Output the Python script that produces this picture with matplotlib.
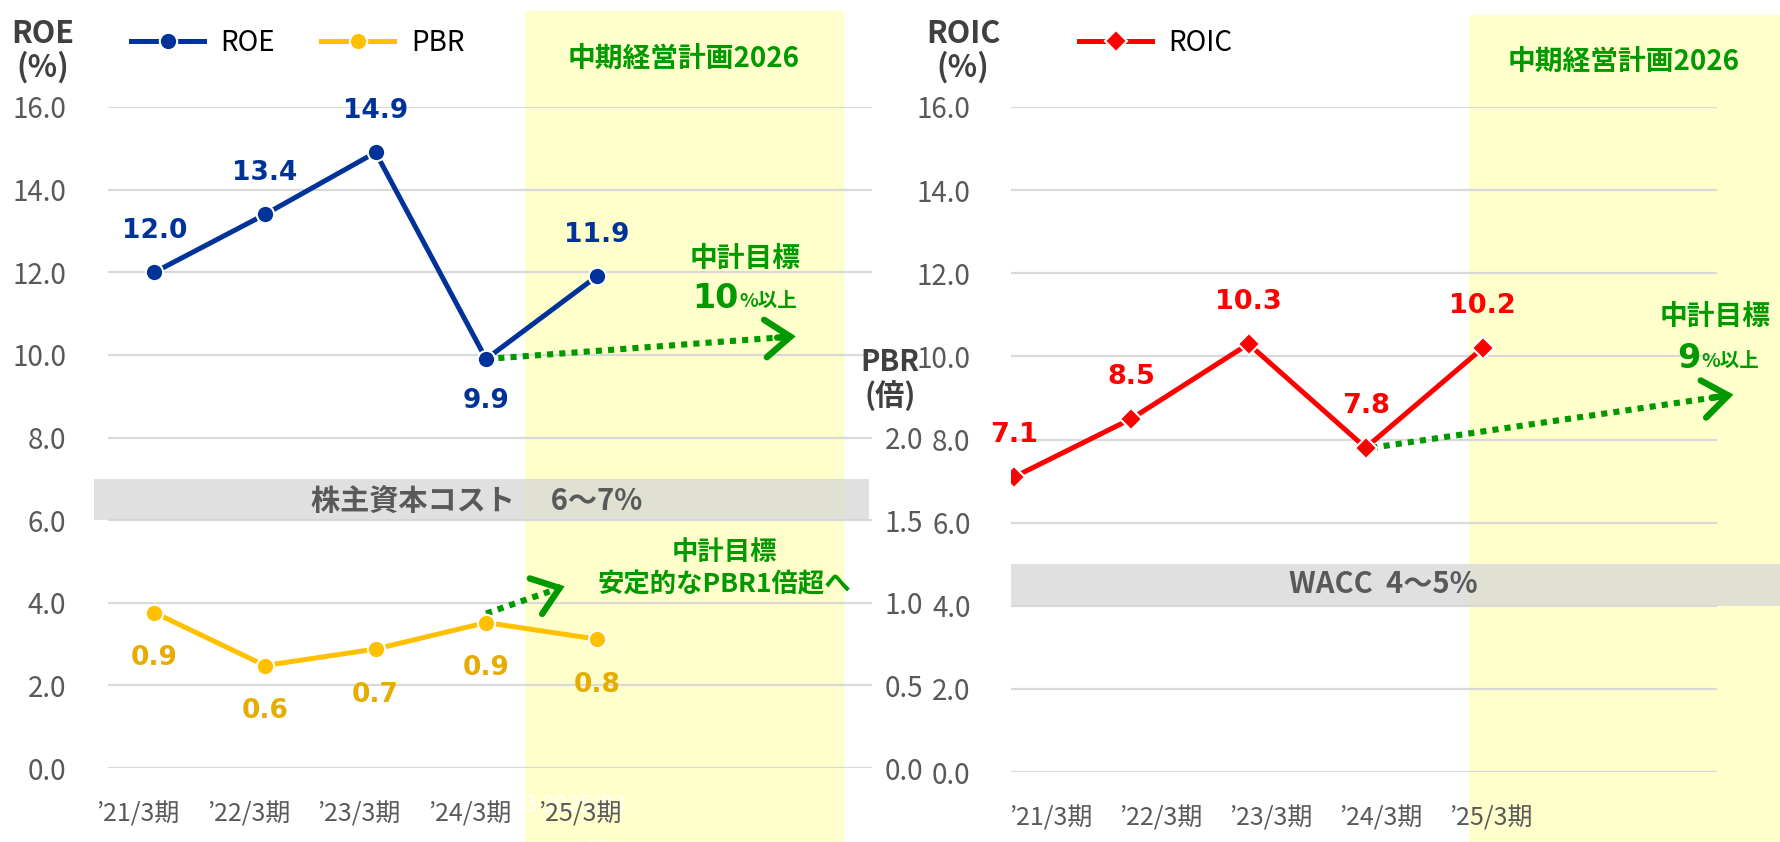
import matplotlib
matplotlib.use("Agg")
import matplotlib.pyplot as plt
from matplotlib.patches import Rectangle
import numpy as np

# ---------------- data ----------------
categories = ["’21/3期", "’22/3期", "’23/3期", "’24/3期", "’25/3期"]
roe = [12.0, 13.4, 14.9, 9.9, 11.9]
pbr = [0.94, 0.62, 0.72, 0.88, 0.78]
roic = [7.1, 8.5, 10.3, 7.8, 10.2]
pct_ticks = [0, 2, 4, 6, 8, 10, 12, 14, 16]
pbr_ticks = [0.0, 0.5, 1.0, 1.5, 2.0]
cost_of_equity = [6, 7]
wacc = [4, 5]
# target arrows: (x start, y start, x end, y end)
roe_target = (3.0, 9.9, 5.8, 10.45)
pbr_target = (3.0, 0.935, 3.71, 1.1)
roic_target = (3.05, 7.8, 6.14, 9.08)

# ---------------- style ----------------
W, H = 1781, 842
BLUE = "#003399"
GOLD = "#FFC000"
GOLD_TXT = "#E6AC00"
RED = "#FF0000"
GREEN = "#009900"
GRID = "#D9D9D9"
TICK = "#595959"
TITLE = "#404040"
YELLOW = "#FFFFCC"
JP = ["Noto Sans CJK JP", "DejaVu Sans"]
NUM = ["DejaVu Sans"]

plt.rcParams["font.family"] = JP

fig = plt.figure(figsize=(W / 100, H / 100), dpi=100)
fig.patch.set_facecolor("white")


def fx(x):
    return x / W


def fy(y):
    return 1 - y / H


def ftext(x, y, s, **kw):
    fig.text(fx(x), fy(y), s, **kw)


def axes_px(x0, x1, ytop, ybot):
    return fig.add_axes([fx(x0), fy(ybot), fx(x1) - fx(x0), fy(ytop) - fy(ybot)])


# yellow plan bands (figure level, behind axes)
for (x0, x1, y0) in [(525, 844, 11), (1469, 1781, 15)]:
    fig.patches.append(Rectangle((fx(x0), 0), fx(x1) - fx(x0), fy(y0),
                                 transform=fig.transFigure, facecolor=YELLOW,
                                 edgecolor="none", zorder=-5))


def style_axes(ax, ylabel_pad):
    ax.set_facecolor("none")
    for s in ax.spines.values():
        s.set_visible(False)
    ax.set_ylim(0, 16)
    ax.set_yticks(pct_ticks)
    ax.set_yticklabels([f"{v:.1f}" for v in pct_ticks], fontsize=20, color=TICK)
    ax.tick_params(axis="y", length=0, pad=ylabel_pad)
    ax.tick_params(axis="x", length=0, pad=24, labelsize=18, labelcolor=TICK)
    ax.grid(axis="y", color=GRID, lw=1.6, zorder=0)
    ax.set_axisbelow(True)


def dotted_arrow(ax, x0, y0, x1, y1):
    ax.plot([x0, x1 - 0.04 * (x1 - x0)], [y0, y1 - 0.04 * (y1 - y0)],
            ls=(0, (1, 1)), lw=4.4, color=GREEN, solid_capstyle="butt",
            dash_capstyle="butt", clip_on=False, zorder=4)
    ax.annotate("", xy=(x1, y1), xytext=(x1 - 0.06 * (x1 - x0), y1 - 0.06 * (y1 - y0)),
                arrowprops=dict(arrowstyle="->,head_length=0.6,head_width=0.45",
                                lw=4.6, color=GREEN, shrinkA=0, shrinkB=0,
                                mutation_scale=30, capstyle="round", joinstyle="miter"),
                annotation_clip=False, zorder=4)


x = np.arange(len(categories))

# ================= left chart (ROE / PBR) =================
axL = axes_px(108, 872, 107, 768)
style_axes(axL, 30)
axL.set_xlim(-0.42, 6.49)
axL.set_xticks(x - 0.15)
axL.set_xticklabels(categories)

axL.axhspan(cost_of_equity[0], cost_of_equity[1], xmin=-0.018, xmax=0.996,
            facecolor="#D6D6D6", alpha=0.75, edgecolor="none", clip_on=False, zorder=1)
ftext(477, 502, "株主資本コスト　 6～7%", fontsize=21, fontweight="bold",
      color=TICK, ha="center", va="center")

lroe, = axL.plot(x, roe, color=BLUE, lw=3.6, marker="o", ms=12.5,
                 mfc=BLUE, mec="white", mew=1.5, zorder=5, label="ROE")
for xi, v in zip(x, roe):
    off = -30 if v == min(roe) else 30
    axL.annotate(f"{v:.1f}", (xi, v), xytext=(0, off), textcoords="offset points",
                 ha="center", va="center", fontsize=19, fontweight="bold",
                 color=BLUE, family=NUM)

axP = axL.twinx()
axP.set_facecolor("none")
for s in axP.spines.values():
    s.set_visible(False)
axP.set_ylim(0, 4)
axP.set_yticks(pbr_ticks)
axP.set_yticklabels([f"{v:.1f}" for v in pbr_ticks], fontsize=20, color=TICK)
axP.tick_params(axis="y", length=0, pad=9)
lpbr, = axP.plot(x, pbr, color=GOLD, lw=3.6, marker="o", ms=12.5,
                 mfc=GOLD, mec="white", mew=1.5, zorder=5, label="PBR")
for xi, v in zip(x, pbr):
    axP.annotate(f"{v:.1f}", (xi, v), xytext=(0, -33), textcoords="offset points",
                 ha="center", va="center", fontsize=19, fontweight="bold",
                 color=GOLD_TXT, family=NUM)

dotted_arrow(axL, *roe_target)
dotted_arrow(axP, *pbr_target)

leg = axL.legend(handles=[lroe, lpbr], loc="center left",
                 bbox_to_anchor=(fx(131), fy(43)), bbox_transform=fig.transFigure,
                 ncol=2, frameon=False, fontsize=20, handlelength=2.63,
                 handletextpad=0.6, columnspacing=1.65, borderpad=0, borderaxespad=0)
for t in leg.get_texts():
    t.set_color("black")

# ================= right chart (ROIC) =================
axR = axes_px(1011, 1717, 107, 772)
style_axes(axR, 29)
axR.set_xlim(-0.028, 6.0)
axR.set_xticks(x * 0.94 + 0.31)
axR.set_xticklabels(categories)

axR.axhspan(wacc[0], wacc[1], xmin=0, xmax=1.1, facecolor="#D6D6D6", alpha=0.75,
            edgecolor="none", clip_on=False, zorder=1)
ftext(1383, 584, "WACC  4～5%", fontsize=21, fontweight="bold",
      color=TICK, ha="center", va="center")

lroic, = axR.plot(x, roic, color=RED, lw=3.6, marker="D", ms=11,
                  mfc=RED, mec="white", mew=1.5, zorder=5, label="ROIC")
for xi, v in zip(x, roic):
    axR.annotate(f"{v:.1f}", (xi, v), xytext=(0, 30), textcoords="offset points",
                 ha="center", va="center", fontsize=19.5, fontweight="bold",
                 color=RED, family=NUM)
dotted_arrow(axR, *roic_target)

axR.legend(handles=[lroic], loc="center left",
           bbox_to_anchor=(fx(1079), fy(43)), bbox_transform=fig.transFigure,
           frameon=False, fontsize=20, handlelength=2.63, handletextpad=0.6,
           borderpad=0, borderaxespad=0)

# ================= texts =================
ftext(43, 51, "ROE\n(%)", fontsize=22, fontweight="bold", color=TITLE,
      ha="center", va="center", linespacing=1.05)
ftext(963, 51, "ROIC\n(%)", fontsize=22, fontweight="bold", color=TITLE,
      ha="center", va="center", linespacing=1.05)
ftext(890, 379, "PBR\n(倍)", fontsize=21, fontweight="bold", color=TITLE,
      ha="center", va="center", linespacing=1.1)

ftext(684, 59, "中期経営計画2026", fontsize=20, fontweight="bold", color=GREEN,
      ha="center", va="center")
ftext(1624, 62, "中期経営計画2026", fontsize=20, fontweight="bold", color=GREEN,
      ha="center", va="center")

ftext(745, 259, "中計目標", fontsize=20, fontweight="bold", color=GREEN,
      ha="center", va="center")
ftext(739, 298, "10", fontsize=24, fontweight="bold", color=GREEN,
      ha="right", va="center", family=NUM)
ftext(739, 301, "%以上", fontsize=14, fontweight="bold", color=GREEN,
      ha="left", va="center")

ftext(1715, 317, "中計目標", fontsize=20, fontweight="bold", color=GREEN,
      ha="center", va="center")
ftext(1701, 358, "9", fontsize=24, fontweight="bold", color=GREEN,
      ha="right", va="center", family=NUM)
ftext(1701, 361, "%以上", fontsize=14, fontweight="bold", color=GREEN,
      ha="left", va="center")

ftext(724, 553, "中計目標", fontsize=19, fontweight="bold", color=GREEN,
      ha="center", va="center")
ftext(724, 585, "安定的なPBR1倍超へ", fontsize=19, fontweight="bold", color=GREEN,
      ha="center", va="center")

# faint white category text visible only on the plan band
ftext(525, 805, "3 2025/03", fontsize=16, color="white", ha="left",
      va="center", zorder=-1)
ftext(597, 852, "期", fontsize=16, color="white", ha="center", va="center", zorder=-1)

fig.savefig("out.png", dpi=100, facecolor="white")
